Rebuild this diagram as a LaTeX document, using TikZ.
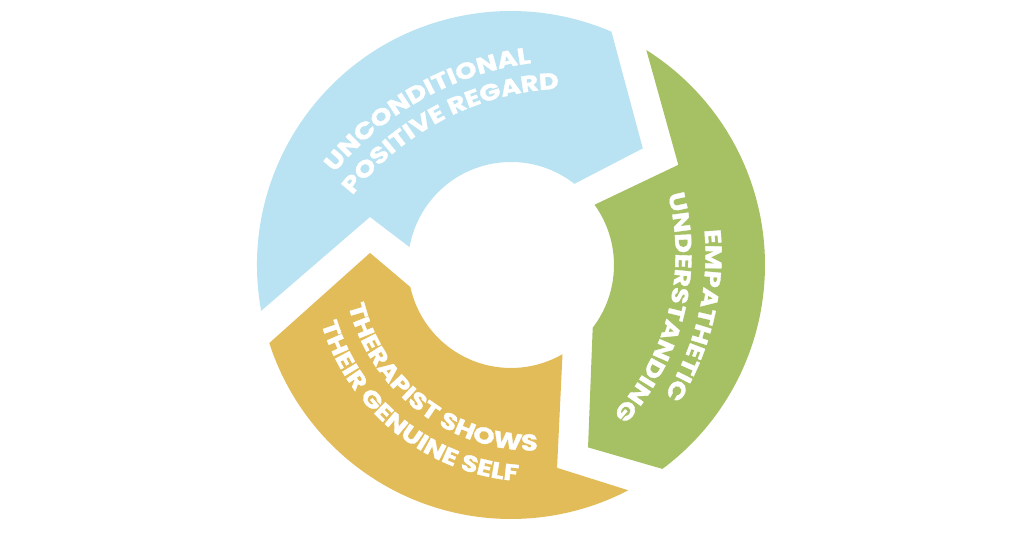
\documentclass[tikz,border=0pt]{standalone}
\usepackage{fontspec}
\newfontfamily\lblfont{Poppins}[FakeStretch=1.2, BoldFeatures={FakeBold=1.5}]
\usetikzlibrary{decorations.text}
\definecolor{regardblue}{HTML}{B9E3F2}
\definecolor{empathygreen}{HTML}{A6C064}
\definecolor{genuineyellow}{HTML}{E2BC58}

\begin{document}
\begin{tikzpicture}[
    x = 0.02cm, y = 0.02cm,
    seg/.style = {fill=#1, draw=none},
    arctext/.style = {decorate, decoration={text along path, text align=center,
        text color=white, text={|\lblfont\bfseries\fontsize{13}{13}\selectfont|#1}}}
]
\useasboundingbox (-511,-271) rectangle (513,265);

% Unconditional positive regard
\path[seg=regardblue] (190.4:254) arc[start angle=190.4, end angle=66.7, radius=254]
    -- (41.5:176) -- (52:103) arc[start angle=52, end angle=170, radius=103]
    -- (161.2:149) -- cycle;
\path[shift={(60,-100)}, arctext=UNCONDITIONAL] (159.2:304.5) arc[start angle=159.2, end angle=79.2, radius=304.5];
\path[shift={(60,-100)}, arctext=POSITIVE REGARD] (157.3:276.5) arc[start angle=157.3, end angle=77.3, radius=276.5];

% Empathetic understanding
\path[seg=empathygreen] (57.8:254) arc[start angle=57.8, end angle=-53.4, radius=254]
    -- (-67.1:198) -- (-37.5:103) arc[start angle=-37.5, end angle=35.8, radius=103]
    -- (30.9:195) -- cycle;
\path[shift={(-71,11)}, arctext=EMPATHETIC] (26.5:265.5) arc[start angle=26.5, end angle=-53.5, radius=265.5];
\path[shift={(-71,11)}, arctext=UNDERSTANDING] (26:235.5) arc[start angle=26, end angle=-54, radius=235.5];

% Therapist shows their genuine self
\path[seg=genuineyellow] (-62.5:254) arc[start angle=-62.5, end angle=-162.1, radius=254]
    -- (175.1:141.5) -- (192.4:103) arc[start angle=192.4, end angle=300, radius=103]
    -- (-77.2:208) -- cycle;
\path[shift={(23.6,6.35)}, arctext=THERAPIST SHOWS] (192.5:192) arc[start angle=192.5, end angle=272.5, radius=192];
\path[shift={(23.6,6.35)}, arctext=THEIR GENUINE SELF] (191.3:223) arc[start angle=191.3, end angle=271.3, radius=223];

\end{tikzpicture}
\end{document}
